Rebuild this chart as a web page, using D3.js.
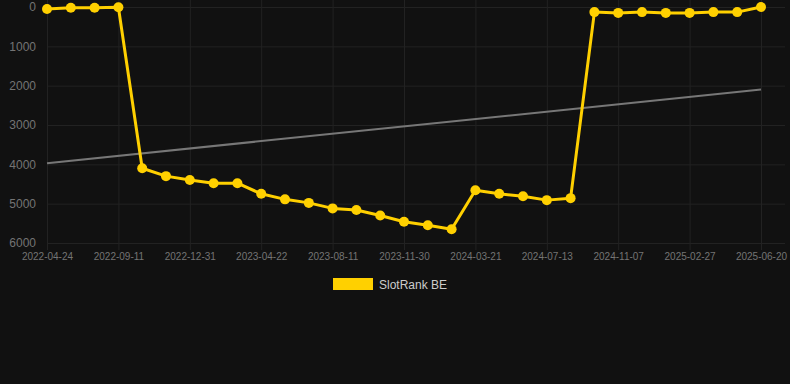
<!DOCTYPE html>
<html>
<head>
<meta charset="utf-8">
<script src="https://cdn.jsdelivr.net/npm/d3@7"></script>
<style>
  html, body { margin: 0; padding: 0; background: #111111; }
  svg { display: block; font-family: "Liberation Sans", Arial, sans-serif; }
</style>
</head>
<body>
<svg id="chart" width="790" height="384"></svg>
<script>
// dates on the category axis (only every 3rd one is labelled)
var dates = [
  "2022-04-24", "2022-06-10", "2022-07-27", "2022-09-11", "2022-10-18", "2022-11-24",
  "2022-12-31", "2023-02-06", "2023-03-16", "2023-04-22", "2023-05-29", "2023-07-05",
  "2023-08-11", "2023-09-17", "2023-10-24", "2023-11-30", "2024-01-06", "2024-02-13",
  "2024-03-21", "2024-04-28", "2024-06-05", "2024-07-13", "2024-08-20", "2024-09-28",
  "2024-11-07", "2024-12-14", "2025-01-20", "2025-02-27", "2025-04-05", "2025-05-13",
  "2025-06-20"
];
var rank = [
  50, 20, 20, 5, 4100, 4300, 4400, 4480, 4480, 4750, 4890, 4980,
  5120, 5160, 5300, 5460, 5550, 5650, 4660, 4750, 4810, 4910,
  4860, 130, 150, 130, 150, 150, 130, 130, 1
];
// trend line values at the first and last date
var trend = [3970, 2100];
var yTicks = [0, 1000, 2000, 3000, 4000, 5000, 6000];
var seriesName = "SlotRank BE";

var svg = d3.select("#chart");
var plotL = 47, plotR = 761, plotT = 7, plotB = 243;

var x = d3.scalePoint().domain(dates).range([plotL, plotR]);
var y = d3.scaleLinear().domain([0, 6000]).range([plotT, plotB]);

var gridColor = "#222222";
var tickColor = "#747474";

// horizontal grid + y labels
svg.append("g")
    .attr("transform", "translate(" + plotL + ",0)")
    .call(d3.axisLeft(y).tickValues(yTicks).tickSize(10).tickPadding(1).tickFormat(d3.format("d")))
    .call(function(g) {
      g.select(".domain").remove();
      g.selectAll(".tick line").attr("stroke", gridColor).attr("x2", 785 - plotL);
      g.selectAll(".tick text").attr("fill", tickColor).attr("font-size", 12);
    });

// vertical grid + x labels
var shown = dates.filter(function(d, i) { return i % 3 === 0; });
svg.append("g")
    .attr("transform", "translate(0," + plotB + ")")
    .call(d3.axisBottom(x).tickValues(shown).tickSize(7).tickPadding(3))
    .call(function(g) {
      g.select(".domain").remove();
      g.selectAll(".tick line").attr("stroke", gridColor).attr("y1", plotT - plotB - 7);
      g.selectAll(".tick text").attr("fill", tickColor).attr("font-size", 10);
    });

// trend
svg.append("line")
    .attr("x1", x(dates[0])).attr("y1", y(trend[0]))
    .attr("x2", x(dates[dates.length - 1])).attr("y2", y(trend[1]))
    .attr("stroke", "#777777").attr("stroke-width", 2);

var line = d3.line()
    .x(function(d, i) { return x(dates[i]); })
    .y(function(d) { return y(d); });

svg.append("path")
    .datum(rank)
    .attr("fill", "none")
    .attr("stroke", "#ffd000")
    .attr("stroke-width", 3)
    .attr("stroke-linejoin", "round")
    .attr("d", line);

svg.selectAll(".pt")
    .data(rank)
  .enter().append("circle")
    .attr("class", "pt")
    .attr("cx", function(d, i) { return x(dates[i]); })
    .attr("cy", function(d) { return y(d); })
    .attr("r", 5)
    .attr("fill", "#ffd000");

// legend
var lg = svg.append("g").attr("transform", "translate(333,278)");
lg.append("rect").attr("width", 40).attr("height", 12).attr("fill", "#ffd000");
lg.append("text").attr("x", 46).attr("y", 10.5)
    .attr("font-size", 12).attr("fill", "#cccccc").text(seriesName);
</script>
</body>
</html>
